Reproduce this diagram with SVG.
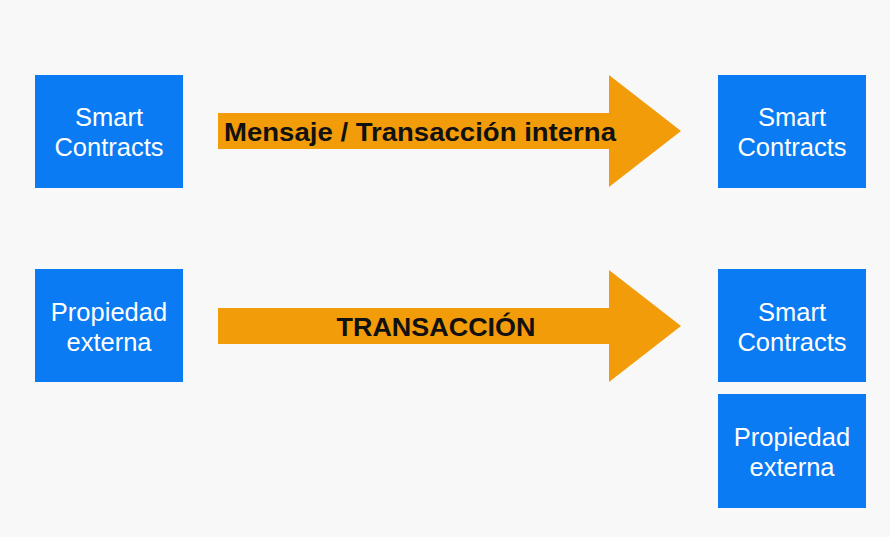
<svg xmlns="http://www.w3.org/2000/svg" width="890" height="537" viewBox="0 0 890 537">
<style>
.box{fill:#0A7BF2;}
.bt{font-family:"Liberation Sans",Arial,sans-serif;font-size:25.5px;fill:#FFFFFF;text-anchor:middle;}
.arr{fill:#F39C0A;}
.at{font-family:"Liberation Sans",Arial,sans-serif;font-size:25px;font-weight:bold;fill:#111111;text-anchor:middle;}
</style>
<rect width="890" height="537" fill="#F8F8F8"/>
<g id="connectors">
<g id="arrow1">
<polygon class="arr" points="218,113 609,113 609,75 681,131 609,187 609,149 218,149"/>
<text class="at" x="420" y="141" textLength="392" lengthAdjust="spacingAndGlyphs">Mensaje / Transacción interna</text>
</g>
<g id="arrow2">
<polygon class="arr" points="218,308 609,308 609,270 681,326 609,382 609,344 218,344"/>
<text class="at" x="436" y="336" textLength="199" lengthAdjust="spacingAndGlyphs">TRANSACCIÓN</text>
</g>
</g>
<g id="sc-left">
<rect class="box" x="35" y="75" width="148" height="113"/>
<text class="bt" x="109" y="126">Smart</text>
<text class="bt" x="109" y="156">Contracts</text>
</g>
<g id="sc-right">
<rect class="box" x="718" y="75" width="148" height="113"/>
<text class="bt" x="792" y="126">Smart</text>
<text class="bt" x="792" y="156">Contracts</text>
</g>
<g id="pe-left">
<rect class="box" x="35" y="269" width="148" height="113"/>
<text class="bt" x="109" y="321">Propiedad</text>
<text class="bt" x="109" y="351">externa</text>
</g>
<g id="sc-right2">
<rect class="box" x="718" y="269" width="148" height="113"/>
<text class="bt" x="792" y="321">Smart</text>
<text class="bt" x="792" y="351">Contracts</text>
</g>
<g id="pe-right">
<rect class="box" x="718" y="394" width="148" height="114"/>
<text class="bt" x="792" y="446">Propiedad</text>
<text class="bt" x="792" y="476">externa</text>
</g>
</svg>
